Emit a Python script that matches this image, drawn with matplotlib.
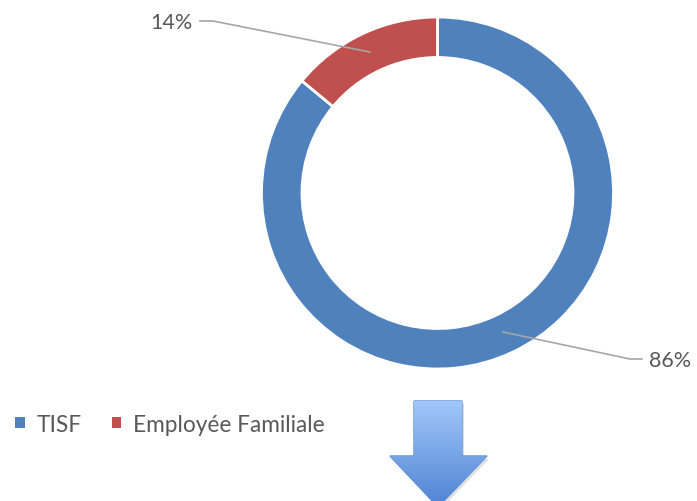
import numpy as np
import matplotlib.pyplot as plt
from matplotlib.patches import Polygon
from matplotlib.colors import LinearSegmentedColormap

# shares of the two job types
labels = ['TISF', 'Employée Familiale']
values = [86, 14]
colors = ['#4F81BD', '#C0504D']

plt.rcParams['font.family'] = ['Lato', 'DejaVu Sans']

W, H = 697, 502
fig = plt.figure(figsize=(W / 100, H / 100), dpi=100)
ax = fig.add_axes([0, 0, 1, 1])

cx, cy, r = 437.5, H - 194, 176
wedges, _ = ax.pie(values, colors=colors, startangle=90, counterclock=False,
                   center=(cx, cy), radius=r,
                   wedgeprops=dict(width=r * 0.23, edgecolor='white', linewidth=2))
ax.set_aspect('equal')
ax.axis('off')

# leader lines and percentage labels
grey = '#595959'
ax.plot([370, 213, 200], [H - 53, H - 22, H - 22], color='#A6A6A6', lw=1.2)
ax.text(193, H - 23, '{}%'.format(values[1]), ha='right', va='center',
        fontsize=15.5, color=grey)
ax.plot([503, 630, 642], [H - 333, H - 360, H - 360], color='#A6A6A6', lw=1.2)
ax.text(649, H - 361, '{}%'.format(values[0]), ha='left', va='center',
        fontsize=15.5, color=grey)

leg = ax.legend(wedges, labels, loc='center left', bbox_to_anchor=(15 / W, 1 - 425 / H),
                ncol=2, frameon=False, handlelength=0.42, handleheight=0.42,
                handletextpad=0.55, columnspacing=1.3, fontsize=16.3,
                labelcolor=grey, borderpad=0, borderaxespad=0)
for h in leg.legend_handles:
    h.set_edgecolor('none')

# blue gradient arrow pointing down
arrow = [(414, H - 402), (462, H - 402), (462, H - 457), (487, H - 457),
         (438, H - 508), (390, H - 457), (414, H - 457)]
shadow = Polygon([(x + 2, y - 3) for x, y in arrow], closed=True,
                 fc='#000000', alpha=0.12, ec='none')
ax.add_patch(shadow)
poly = Polygon(arrow, closed=True, fc='none', ec='#5B8ED6', lw=1)
ax.add_patch(poly)
grad = np.linspace(0, 1, 100).reshape(-1, 1)
cmap = LinearSegmentedColormap.from_list('arr', ['#4D82D3', '#A3C8FA'])
im = ax.imshow(grad, cmap=cmap, extent=(388, 489, H - 510, H - 400),
               origin='lower', aspect='auto', zorder=1)
im.set_clip_path(poly)
ax.set_xlim(0, W)
ax.set_ylim(0, H)

fig.savefig('out.png', dpi=100)
